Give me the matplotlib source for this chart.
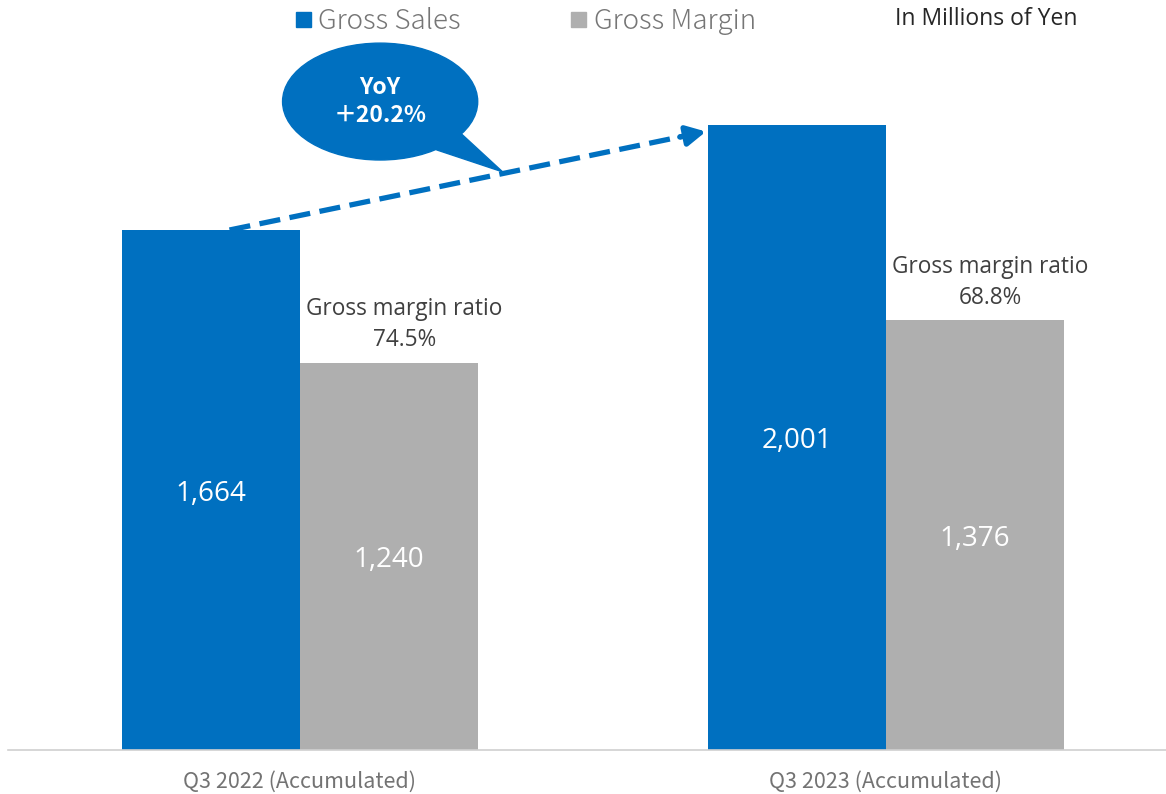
import numpy as np
import matplotlib
matplotlib.use("Agg")
import matplotlib.pyplot as plt
from matplotlib.patches import Ellipse, Polygon

# data
categories = ["Q3 2022 (Accumulated)", "Q3 2023 (Accumulated)"]
gross_sales = [1664, 2001]
gross_margin = [1240, 1376]
margin_ratio = ["74.5%", "68.8%"]
yoy_label = "YoY\n＋20.2%"

blue = "#0070C0"
gray = "#AFAFAF"
jp_font = ["Noto Sans CJK JP", "DejaVu Sans"]
lat_font = "Open Sans"

W, H = 1166, 794
fig = plt.figure(figsize=(W / 100, H / 100), dpi=100)
ax = fig.add_axes([8 / W, 44 / H, 1 - 8 / W, 750 / H])

x = np.arange(len(categories))
w = 0.304
ax.bar(x - w / 2, gross_sales, w, color=blue, zorder=2)
ax.bar(x + w / 2, gross_margin, w, color=gray, zorder=2)
ax.set_xlim(-0.498, 1.478)
ax.set_ylim(0, 2400)

for i in range(len(x)):
    ax.text(x[i] - w / 2, gross_sales[i] / 2 - 12, f"{gross_sales[i]:,}", color="white",
            ha="center", va="center", fontsize=20, family=lat_font)
    ax.text(x[i] + w / 2, gross_margin[i] / 2 - 12, f"{gross_margin[i]:,}", color="white",
            ha="center", va="center", fontsize=20, family=lat_font)
    ax.text(x[i] + w / 2 + 0.026, gross_margin[i] + 32, "Gross margin ratio\n" + margin_ratio[i],
            color="#404040", ha="center", va="bottom", fontsize=16.3, family=lat_font,
            linespacing=1.4)

for s in ["top", "right", "left"]:
    ax.spines[s].set_visible(False)
ax.spines["bottom"].set_color("#D0D0D0")
ax.spines["bottom"].set_linewidth(1.2)
ax.set_yticks([])
ax.set_xticks(x)
ax.set_xticklabels(categories, family=jp_font, fontsize=15.5, color="#737373")
ax.tick_params(axis="x", length=0, pad=15)

# dashed growth arrow, from top of first blue bar to the second one
xs, ys = x[0] - w + 0.184, gross_sales[0]
xe, ye = x[1] - w - 0.003, gross_sales[1] - 22
frac = 0.955
xm, ym = xs + frac * (xe - xs), ys + frac * (ye - ys)
ax.plot([xs, xm], [ys, ym], color=blue, lw=3.8, linestyle=(0, (4, 1.8)),
        dash_capstyle="butt", zorder=3)
ax.annotate("", xy=(xe, ye), xytext=(xm - 0.01 * (xe - xs), ym - 0.01 * (ye - ys)),
            arrowprops=dict(arrowstyle="-|>,head_length=1.15,head_width=0.6",
                            color=blue, lw=3.8, shrinkA=0, shrinkB=0), zorder=3)

# speech bubble
ecx, ecy = 0.137, 2075
ell = Ellipse((ecx, ecy), 0.333, 374, color=blue, zorder=4)
ax.add_patch(ell)
tail = Polygon([(0.20, 1960), (0.234, 1920), (0.346, 1850), (0.276, 1971)],
               closed=True, color=blue, zorder=4)
ax.add_patch(tail)
ax.text(ecx, ecy, yoy_label, color="white", ha="center", va="center", fontsize=16.5,
        fontweight="bold", family=jp_font, linespacing=1.3, zorder=5)

# legend
fig.patches.append(plt.Rectangle((296 / W, 1 - 27 / H), 15 / W, 15 / H,
                                 transform=fig.transFigure, color=blue))
fig.text(318 / W, 1 - 21 / H, "Gross Sales", family=jp_font, fontsize=20,
         color="#767676", va="center", fontweight="light")
fig.patches.append(plt.Rectangle((571 / W, 1 - 27 / H), 15 / W, 15 / H,
                                 transform=fig.transFigure, color=gray))
fig.text(594 / W, 1 - 21 / H, "Gross Margin", family=jp_font, fontsize=20,
         color="#767676", va="center", fontweight="light")
fig.text(895 / W, 1 - 19 / H, "In Millions of Yen", family=lat_font, fontsize=16.5,
         color="#262626", va="center")

fig.savefig("out.png", dpi=100)
